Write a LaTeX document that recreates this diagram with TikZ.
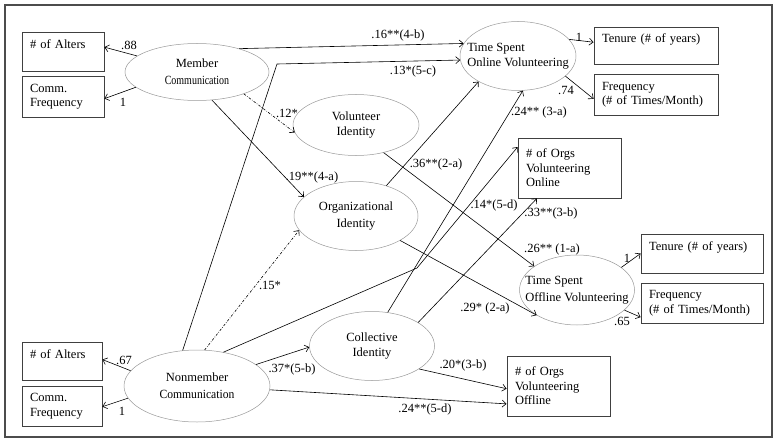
\documentclass[tikz,border=0pt]{standalone}
\usepackage{fontspec}
\setmainfont{Liberation Serif}
\usepackage{graphicx}
\usetikzlibrary{arrows.meta,shapes.geometric}

\newcommand{\diagfont}{\fontsize{12.5}{15}\selectfont}

\begin{document}
\begin{tikzpicture}[
  x=1pt, y=-1pt,
  >={Straight Barb[length=4pt,width=7pt]},
  latent/.style={ellipse, draw=black!40, line width=0.5pt, inner sep=0pt,
                 align=center, font=\diagfont},
  indicator/.style={rectangle, draw=black!75, line width=0.8pt, inner xsep=8pt,
                    inner ysep=2pt, align=left, font=\fontsize{12.5}{14.5}\selectfont},
  coef/.style={font=\diagfont, inner sep=0pt},
  effect/.style={->, line width=0.6pt},
  weak/.style={effect, dash pattern=on 2.5pt off 1.5pt on 0.6pt off 1.5pt},
]
\useasboundingbox (0,0) rectangle (776,441);

% === Frame ===
\draw[black!70, line width=1.2pt] (5,5) rectangle (772,437);

% === Latent variables ===
\node[latent, minimum width=144pt, minimum height=57pt] (mc) at (197,72)
  {Member\\[2pt]\scalebox{0.8}[1]{Communication}};
\node[latent, minimum width=146pt, minimum height=72pt] (nc) at (197,386)
  {Nonmember\\[2pt]\scalebox{0.93}[1]{Communication}};
\node[latent, minimum width=126pt, minimum height=61pt] (vi) at (356,125)
  {Volunteer\\Identity};
\node[latent, minimum width=124pt, minimum height=69pt] (oi) at (356,216)
  {Organizational\\[2pt]Identity};
\node[latent, minimum width=125pt, minimum height=69pt] (ci) at (372,346)
  {Collective\\Identity};
\node[latent, minimum width=116pt, minimum height=69pt, align=left, inner xsep=-25pt] (tso) at (518,56)
  {Time Spent\\Online Volunteering};
\node[latent, minimum width=115pt, minimum height=70pt, align=left, inner xsep=-25pt] (tsf) at (577,290)
  {Time Spent\\[2pt]Offline Volunteering};

% === Indicators ===
\node[indicator, minimum width=82pt, minimum height=39pt, text width=66pt] (alt1) at (63,51.5)
  {\# of Alters\\\mbox{}};
\node[indicator, minimum width=82pt, minimum height=41pt, text width=66pt] (frq1) at (63,96.5)
  {Comm.\\Frequency};
\node[indicator, minimum width=80pt, minimum height=38pt, text width=64pt] (alt2) at (62,361)
  {\# of Alters\\\mbox{}};
\node[indicator, minimum width=80pt, minimum height=40pt, text width=64pt] (frq2) at (62,406)
  {Comm.\\Frequency};
\node[indicator, minimum width=124pt, minimum height=37pt, text width=108pt] (ten1) at (656,45.5)
  {Tenure (\# of years)\\\mbox{}};
\node[indicator, minimum width=124pt, minimum height=41pt, text width=108pt] (fre1) at (656,94.5)
  {Frequency\\(\# of Times/Month)};
\node[indicator, minimum width=122pt, minimum height=39pt, text width=106pt] (ten2) at (702,253.5)
  {Tenure (\# of years)\\\mbox{}};
\node[indicator, minimum width=122pt, minimum height=40pt, text width=106pt] (fre2) at (702,303)
  {Frequency\\(\# of Times/Month)};
\node[indicator, minimum width=103pt, minimum height=60pt, text width=87pt] (orgon) at (569.5,168)
  {\# of Orgs\\Volunteering\\Online};
\node[indicator, minimum width=103pt, minimum height=60pt, text width=87pt] (orgoff) at (558.5,386)
  {\# of Orgs\\Volunteering\\Offline};

% === Measurement paths ===
\foreach \from/\a/\to/\b in {mc/165/alt1/6, mc/194/frq1/-3, nc/167/alt2/2, nc/190/frq2/-1,
                             tso/18/ten1/177, tso/337/fre1/184, tsf/27/ten2/180, tsf/337/fre2/193}
  \draw[effect] (\from.\a) -- (\to.\b);

% === Structural paths ===
\coordinate (bendA) at (277,64);
\coordinate (bendB) at (417,268);
\draw[effect] (mc.29) -- (tso.167);
\draw[effect] (nc.112) -- (bendA) -- (tso.184);
\draw[weak] (mc.335) -- (vi.187);
\draw[effect] (mc.298) -- (oi.160);
\draw[effect] (vi.315) -- (tsf.151);
\draw[effect] (oi.45) -- (tso.213);
\draw[effect] (oi.331) -- (tsf.212);
\draw[weak] (nc.78) -- (oi.194);
\draw[effect] (nc.52) -- (bendB) -- (orgon.158);
\draw[effect] (ci.65) -- (tso.278);
\draw[effect] (ci.27) -- (orgon.223);
\draw[effect] (nc.20) -- (ci.181);
\draw[effect] (ci.334) -- (orgoff.183);
\draw[effect] (nc.357) -- (orgoff.199);

% === Coefficients ===
\node[coef] (l88) at (129,45) {.88};
\node[coef] (l1m) at (123,102) {1};
\node[coef] (l16) at (398,35) {.16**(4-b)};
\node[coef] (l13) at (413,71) {.13*(5-c)};
\node[coef] (l12) at (287,113) {.12*};
\node[coef] (l19) at (312,177) {.19**(4-a)};
\node[coef] (l36) at (436,164) {.36**(2-a)};
\node[coef] (l24a) at (539,112) {.24** (3-a)};
\node[coef] (l14) at (494,205) {.14*(5-d)};
\node[coef] (l33) at (551,213) {.33**(3-b)};
\node[coef] (l26) at (552,249) {.26** (1-a)};
\node[coef] (l15) at (270,285) {.15*};
\node[coef] (l29) at (485,308) {.29* (2-a)};
\node[coef] (l37) at (292,369) {.37*(5-b)};
\node[coef] (l20) at (463,365) {.20*(3-b)};
\node[coef] (l24b) at (425,409) {.24**(5-d)};
\node[coef] (l1t) at (579,37) {1};
\node[coef] (l74) at (566,90) {.74};
\node[coef] (l1u) at (627,258) {1};
\node[coef] (l65) at (622,321) {.65};
\node[coef] (l67) at (124,360) {.67};
\node[coef] (l1n) at (122,411) {1};

\end{tikzpicture}
\end{document}
